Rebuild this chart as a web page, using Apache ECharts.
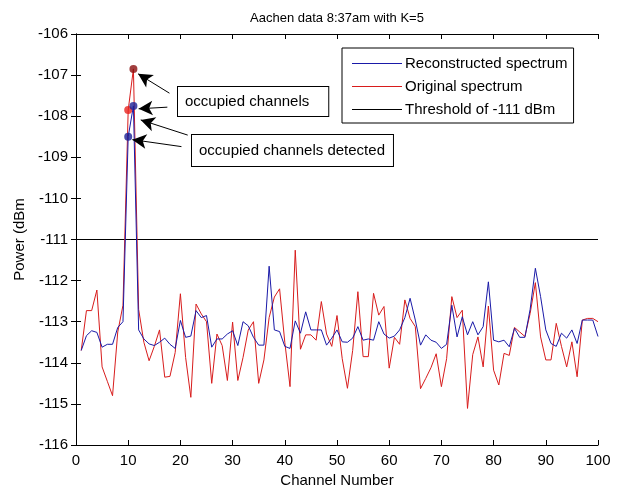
<!DOCTYPE html>
<html>
<head>
<meta charset="utf-8">
<script src="https://cdn.jsdelivr.net/npm/echarts@6/dist/echarts.min.js"></script>
<style>html,body{margin:0;padding:0;background:#fff;}#c{width:619px;height:487px;}</style>
</head>
<body>
<div id="c"></div>
<script>
// ---- data ----
var channels = [];
for (var i = 1; i <= 100; i++) channels.push(i);
var originalSpectrum = [
-113.7,-112.73,-112.73,-112.23,-114.1,-114.45,-114.8,-113.25,-112.6,-107.85,
-106.85,-112.7,-113.5,-113.95,-113.6,-113.2,-114.35,-114.33,-113.75,-112.32,
-113.87,-114.84,-112.57,-112.81,-113.0,-114.5,-113.3,-113.58,-114.43,-113.01,
-114.43,-113.87,-113.2,-113.0,-114.5,-113.93,-112.9,-112.4,-112.2,-113.5,
-114.58,-111.26,-113.67,-113.32,-113.32,-113.45,-112.51,-113.3,-113.6,-112.85,
-113.9,-114.62,-113.7,-112.27,-113.85,-113.85,-112.31,-112.84,-112.63,-114.13,
-113.38,-113.55,-112.47,-112.92,-113.12,-114.63,-114.38,-114.12,-113.78,-114.58,
-113.9,-112.39,-112.9,-112.72,-115.11,-113.8,-113.37,-114.1,-112.62,-114.18,
-114.54,-113.77,-113.82,-113.14,-113.25,-113.36,-112.8,-112.05,-113.37,-113.93,
-113.93,-113.04,-113.6,-114.1,-113.49,-114.34,-112.96,-112.92,-112.92,-113.0
];
var reconstructedSpectrum = [
-113.7,-113.34,-113.22,-113.26,-113.62,-113.55,-113.55,-113.14,-113.0,-108.5,
-107.75,-113.2,-113.42,-113.54,-113.58,-113.5,-113.4,-113.55,-113.65,-112.97,
-113.38,-113.35,-112.73,-112.9,-112.85,-113.62,-113.42,-113.42,-113.3,-113.22,
-113.58,-113.0,-113.1,-113.38,-113.57,-113.57,-111.65,-113.2,-113.24,-113.6,
-113.65,-112.98,-113.28,-112.76,-113.2,-113.2,-113.2,-113.57,-113.4,-113.2,
-113.49,-113.5,-113.4,-113.12,-113.45,-113.42,-113.45,-113.0,-113.3,-113.4,
-113.35,-113.2,-112.9,-112.43,-112.96,-113.57,-113.32,-113.45,-113.5,-113.65,
-113.55,-112.6,-113.37,-112.88,-113.32,-113.0,-113.32,-113.12,-112.03,-113.45,
-113.49,-113.45,-113.61,-113.16,-113.38,-113.38,-112.7,-111.7,-112.39,-113.2,
-113.53,-113.6,-113.28,-113.4,-113.2,-113.53,-112.96,-112.96,-112.96,-113.36
];
var thresholdX = [0, 100];
var thresholdValue = -111;
// occupied channels (original) and detected (reconstructed)
var occupiedChannels = [10, 11];
var detectedChannels = [10, 11];
var seriesNames = ['Reconstructed spectrum', 'Original spectrum', 'Threshold of -111 dBm'];
var titleText = 'Aachen data 8:37am with K=5';
var xName = 'Channel Number';
var yName = 'Power (dBm';
var annotationTexts = ['occupied channels', 'occupied channels detected'];

// ---- build ----
function pairs(xs, ys) { return xs.map(function (x, i) { return [x, ys[i]]; }); }
var origPairs = pairs(channels, originalSpectrum);
var recPairs = pairs(channels, reconstructedSpectrum);
var threshPairs = thresholdX.map(function (x) { return [x, thresholdValue]; });
var occPts = occupiedChannels.map(function (c) { return [c, originalSpectrum[c - 1]]; });
var detPts = detectedChannels.map(function (c) { return [c, reconstructedSpectrum[c - 1]]; });

// annotation arrows (data space: tail -> head)
var arrows = [
  [[17.9, -107.44], [11.9, -106.97]],
  [[17.5, -107.78], [12.0, -107.82]],
  [[21.4, -108.46], [12.4, -108.09]],
  [[20.2, -108.74], [10.8, -108.57]]
];

var FONT = 'Liberation Sans, Arial, sans-serif';
var chart = echarts.init(document.getElementById('c'), null, { renderer: 'canvas' });
var axisCommon = {
  axisLine: { show: true, lineStyle: { color: '#000', width: 1 } },
  axisTick: { show: true, inside: true, length: 5, lineStyle: { color: '#000' } },
  splitLine: { show: false }
};
chart.setOption({
  animation: false,
  backgroundColor: '#fff',
  title: {
    text: titleText, left: 337, top: 12, textAlign: 'center', padding: 0,
    textStyle: { fontFamily: FONT, fontSize: 13, fontWeight: 'normal', color: '#000' }
  },
  grid: { left: 76, right: 21, top: 34, bottom: 42, containLabel: false, outerBoundsMode: 'none' },
  legend: {
    orient: 'vertical', left: 342, top: 48,
    data: seriesNames,
    icon: 'rect',
    itemWidth: 50, itemHeight: 1, itemGap: 8,
    padding: [8, 6, 6, 10],
    borderColor: '#000', borderWidth: 1, backgroundColor: '#fff',
    textStyle: { fontFamily: FONT, fontSize: 15, color: '#000', padding: [0, 0, 0, -2] }
  },
  xAxis: [
    Object.assign({}, axisCommon, {
      type: 'value', min: 0, max: 100, interval: 10, position: 'bottom',
      name: xName, nameLocation: 'middle', nameGap: 22,
      nameTextStyle: { fontFamily: FONT, fontSize: 15, color: '#000' },
      axisLabel: { fontFamily: FONT, fontSize: 15, color: '#000', margin: 8 }
    }),
    Object.assign({}, axisCommon, {
      type: 'value', min: 0, max: 100, interval: 10, position: 'top',
      axisLabel: { show: false }
    })
  ],
  yAxis: [
    Object.assign({}, axisCommon, {
      type: 'value', min: -116, max: -106, interval: 1, position: 'left',
      name: yName, nameLocation: 'middle', nameGap: 37, nameRotate: 90,
      nameTextStyle: { fontFamily: FONT, fontSize: 15, color: '#000' },
      axisLabel: { fontFamily: FONT, fontSize: 15, color: '#000', margin: 8 }
    }),
    Object.assign({}, axisCommon, {
      type: 'value', min: -116, max: -106, interval: 1, position: 'right',
      axisLabel: { show: false }
    })
  ],
  series: [
    {
      name: seriesNames[1], type: 'line', data: origPairs, symbol: 'none',
      lineStyle: { color: '#d81c1c', width: 1 }, itemStyle: { color: '#d81c1c' }, z: 3
    },
    {
      name: seriesNames[0], type: 'line', data: recPairs, symbol: 'none',
      lineStyle: { color: '#1a1aa8', width: 1 }, itemStyle: { color: '#1a1aa8' }, z: 4
    },
    {
      name: seriesNames[2], type: 'line', data: threshPairs, symbol: 'none',
      lineStyle: { color: '#000', width: 1 }, itemStyle: { color: '#000' }, z: 2,
      markLine: {
        silent: true, symbol: ['none', 'arrow'], symbolSize: [11, 14],
        lineStyle: { color: '#000', width: 1, type: 'solid' },
        label: { show: false },
        data: arrows.map(function (a) { return [{ coord: a[0] }, { coord: a[1] }]; })
      }
    },
    {
      type: 'scatter', data: occPts, symbolSize: 8, z: 6,
      itemStyle: { color: function (p) { return p.dataIndex === 0 ? '#e8231e' : '#8a0e0e'; } }
    },
    {
      type: 'scatter', data: detPts, symbolSize: 8, z: 6,
      itemStyle: { color: '#1b2196' }
    }
  ],
  graphic: [
    {
      type: 'text', left: 177, top: 86, z: 10,
      style: {
        text: annotationTexts[0], fontFamily: FONT, fontSize: 15, fill: '#000',
        backgroundColor: '#fff', borderColor: '#000', borderWidth: 1,
        padding: [7, 19, 7, 7]
      }
    },
    {
      type: 'text', left: 191, top: 134, z: 10,
      style: {
        text: annotationTexts[1], fontFamily: FONT, fontSize: 15, fill: '#000',
        backgroundColor: '#fff', borderColor: '#000', borderWidth: 1,
        padding: [8, 8, 8, 7]
      }
    }
  ]
});
</script>
</body>
</html>
